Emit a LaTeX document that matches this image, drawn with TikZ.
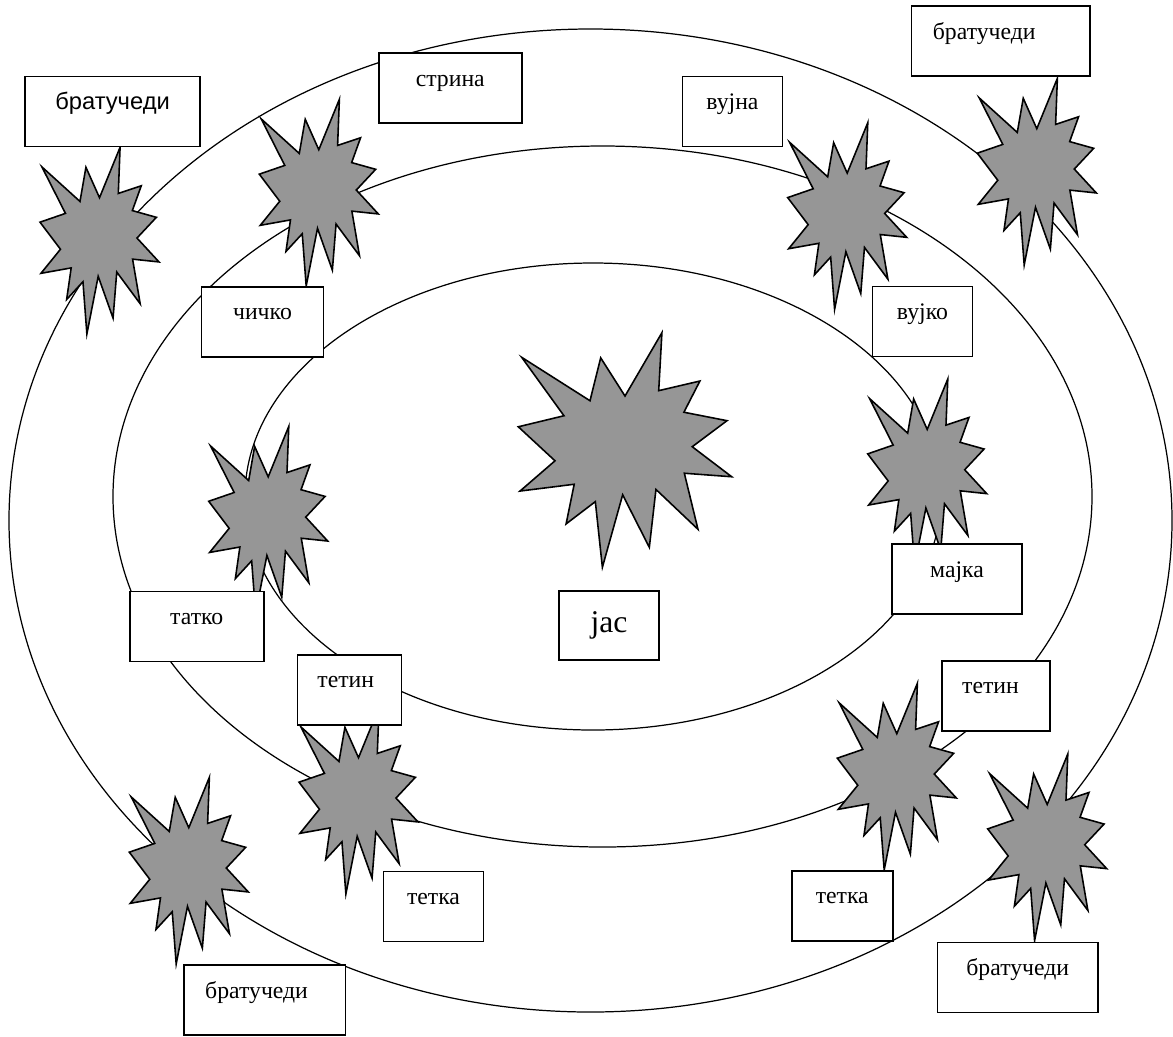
\documentclass[tikz,border=0pt]{standalone}
\usepackage{fontspec}
\setmainfont{Liberation Serif}
\setsansfont{Liberation Sans}
\definecolor{burstgray}{RGB}{150,150,150}

\tikzset{
  burst/.pic={
    \draw[burst line] (0.016,0.105) -- (0.336,0.290) -- (0.386,0.107) -- (0.500,0.270)
      -- (0.673,0.000) -- (0.658,0.247) -- (0.851,0.206) -- (0.776,0.339)
      -- (0.978,0.375) -- (0.815,0.486) -- (1.000,0.614) -- (0.778,0.599)
      -- (0.842,0.838) -- (0.645,0.668) -- (0.614,0.915) -- (0.489,0.691)
      -- (0.394,1.000) -- (0.361,0.720) -- (0.224,0.815) -- (0.262,0.646)
      -- (0.008,0.675) -- (0.172,0.546) -- (0.000,0.401) -- (0.214,0.354) -- cycle;
  }
}

\begin{document}
\begin{tikzpicture}[x=0.02cm, y=-0.02cm]
    \tikzstyle{ring}=[draw=black, line width=0.7pt]
    \tikzstyle{burst line}=[draw=black, fill=burstgray, line width=0.9pt, line join=miter]
    \tikzstyle{kin}=[draw=black, fill=white, line width=0.9pt, inner sep=0pt, anchor=north west,
                     text height=0.66cm, text depth=0.74cm, font=\rmfamily\fontsize{13.5}{16}\selectfont]

    \useasboundingbox (0,0) rectangle (1173,1036);

    % Draw the three rings.
    \draw[ring] (590.5,520.5) ellipse [x radius=581.5, y radius=491.5];
    \draw[ring] (602.5,496.5) ellipse [x radius=489.5, y radius=350.5];
    \draw[ring] (593,496.5) ellipse [x radius=348, y radius=233.5];

    % Draw the small bursts.
    \foreach \x / \y in {40/147.3, 259.3/99.3, 787.7/122.7, 977.3/78.3, 208.7/426.4,
                         867.7/379, 299/707.3, 129.3/777.3, 837.3/683.3, 987.7/754}
        \pic[xscale=119, yscale=186.7] at (\x,\y) {burst};

    % Draw the big burst in the middle.
    \pic[xscale=213.4, yscale=234.6] at (518.3,332.7) {burst};

    % Outer ring labels.
    \node[kin, minimum width=3.5cm, font=\sffamily\fontsize{13.5}{16}\selectfont] (bratuchedi-1) at (24.3,75.7) {братучеди};
    \node[kin, minimum width=2.86cm] (strina) at (378,52.3) {стрина};
    \node[kin, minimum width=3.57cm] (bratuchedi-2) at (910.7,5.3) {братучеди\kern0.66cm};
    \node[kin, minimum width=3.23cm] (bratuchedi-3) at (183.3,964.3) {братучеди\kern0.33cm};
    \node[kin, minimum width=3.21cm] (bratuchedi-4) at (936.7,941.7) {братучеди};

    % Middle ring labels.
    \node[kin, minimum width=2.0cm] (vujna) at (681.7,75.7) {вујна};
    \node[kin, minimum width=2.0cm] (vujko) at (871.7,285.7) {вујко};
    \node[kin, minimum width=2.44cm] (chichko) at (200.7,286) {чичко};
    \node[kin, minimum width=2.08cm] (tetin-1) at (296.7,654) {тетин\kern0.15cm};
    \node[kin, minimum width=2.16cm] (tetin-2) at (941,660) {тетин\kern0.21cm};
    \node[kin, minimum width=2.0cm] (tetka-1) at (382.7,870.7) {тетка};
    \node[kin, minimum width=2.02cm] (tetka-2) at (791,870) {тетка};

    % Inner ring labels.
    \node[kin, minimum width=2.68cm] (tatko) at (129,590.7) {татко};
    \node[kin, minimum width=2.61cm] (majka) at (891,543.3) {мајка};
    \node[kin, minimum width=2.0cm, text height=0.83cm, text depth=0.555cm,
          font=\rmfamily\fontsize{18}{21}\selectfont] (jas) at (558.3,590) {јас};
\end{tikzpicture}
\end{document}
